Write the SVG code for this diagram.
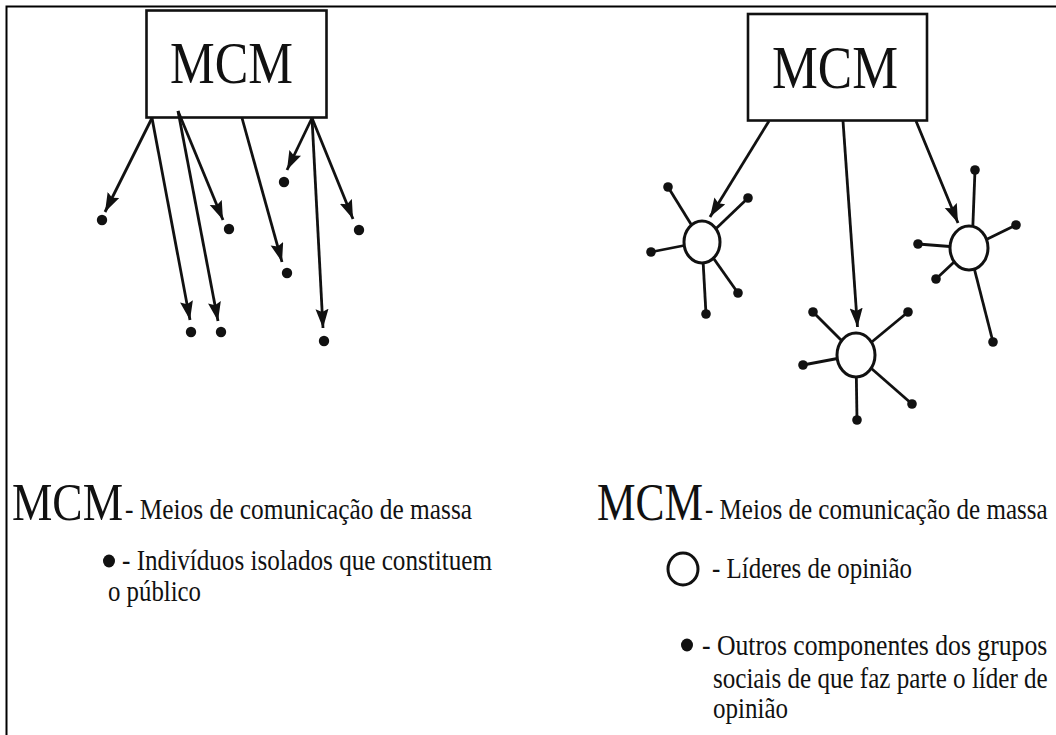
<svg xmlns="http://www.w3.org/2000/svg" width="1056" height="735" viewBox="0 0 1056 735">
<style>
.frame{fill:none;stroke:#000;stroke-width:2}
.box{fill:#fff;stroke:#111;stroke-width:2.6}
.lbl{font-family:"Liberation Serif","Times New Roman",serif;fill:#111}
.conn{stroke:#111;stroke-width:2.8;fill:none}
.arr{stroke:#111;stroke-width:2.8;fill:none;marker-end:url(#ah)}
.dot{fill:#111}
.leader{fill:#fff;stroke:#111;stroke-width:3}
</style>
<defs>
<marker id="ah" markerUnits="userSpaceOnUse" markerWidth="20" markerHeight="14" refX="19" refY="6.5" orient="auto">
<path d="M0,0 L19,6.5 L0,13 L3,6.5 z" fill="#111"/>
</marker>
</defs>
<rect width="1056" height="735" fill="#fff"/>
<path class="frame" d="M6.5,735 L6.5,6.5 L1056,6.5"/>

<g id="left-mcm">
<rect class="box" x="146.5" y="10.5" width="180" height="107"/>
<text class="lbl" x="170" y="83" font-size="60" textLength="123" lengthAdjust="spacingAndGlyphs">MCM</text>
</g>

<g id="left-individuals">
<circle class="dot" cx="102" cy="220" r="5.2"/>
<circle class="dot" cx="191" cy="332" r="5.2"/>
<circle class="dot" cx="229" cy="229" r="5.2"/>
<circle class="dot" cx="221" cy="332" r="5.2"/>
<circle class="dot" cx="287" cy="273" r="5.2"/>
<circle class="dot" cx="284" cy="182" r="5.2"/>
<circle class="dot" cx="324" cy="341" r="5.2"/>
<circle class="dot" cx="359" cy="230" r="5.2"/>
</g>

<g id="right-mcm">
<rect class="box" x="748" y="14" width="179" height="106.5"/>
<text class="lbl" x="772" y="88" font-size="61" textLength="126" lengthAdjust="spacingAndGlyphs">MCM</text>
</g>

<g id="connectors">
<line class="arr" x1="152" y1="118" x2="105" y2="212"/>
<line class="arr" x1="152" y1="118" x2="190" y2="320"/>
<line class="arr" x1="178" y1="111" x2="223" y2="220"/>
<line class="arr" x1="178" y1="111" x2="218" y2="321"/>
<line class="arr" x1="242" y1="118" x2="282" y2="262"/>
<line class="arr" x1="312" y1="118" x2="287" y2="170"/>
<line class="arr" x1="312" y1="118" x2="323" y2="328"/>
<line class="arr" x1="312" y1="118" x2="353" y2="219"/>
<line class="arr" x1="769" y1="121" x2="710" y2="217"/>
<line class="arr" x1="843" y1="121" x2="857.5" y2="327"/>
<line class="arr" x1="916" y1="121" x2="958" y2="223"/>
</g>

<g id="leader-1">
<line class="conn" x1="702" y1="242" x2="668" y2="187"/>
<line class="conn" x1="702" y1="242" x2="748" y2="198"/>
<line class="conn" x1="702" y1="242" x2="651" y2="252"/>
<line class="conn" x1="702" y1="242" x2="738" y2="293"/>
<line class="conn" x1="702" y1="242" x2="706" y2="314"/>
<circle class="dot" cx="668" cy="187" r="4.8"/>
<circle class="dot" cx="748" cy="198" r="4.8"/>
<circle class="dot" cx="651" cy="252" r="4.8"/>
<circle class="dot" cx="738" cy="293" r="4.8"/>
<circle class="dot" cx="706" cy="314" r="4.8"/>
<ellipse class="leader" cx="702" cy="242" rx="18" ry="21"/>
</g>

<g id="leader-2">
<line class="conn" x1="856" y1="355" x2="813" y2="312"/>
<line class="conn" x1="856" y1="355" x2="908" y2="312"/>
<line class="conn" x1="856" y1="355" x2="803" y2="365"/>
<line class="conn" x1="856" y1="355" x2="912" y2="404"/>
<line class="conn" x1="856" y1="355" x2="857" y2="420"/>
<circle class="dot" cx="813" cy="312" r="4.8"/>
<circle class="dot" cx="908" cy="312" r="4.8"/>
<circle class="dot" cx="803" cy="365" r="4.8"/>
<circle class="dot" cx="912" cy="404" r="4.8"/>
<circle class="dot" cx="857" cy="420" r="4.8"/>
<ellipse class="leader" cx="856" cy="355" rx="19" ry="22"/>
</g>

<g id="leader-3">
<line class="conn" x1="972" y1="248" x2="975" y2="170"/>
<line class="conn" x1="969" y1="248" x2="1016" y2="225"/>
<line class="conn" x1="969" y1="248" x2="918" y2="244"/>
<line class="conn" x1="969" y1="248" x2="936" y2="279"/>
<line class="conn" x1="969" y1="248" x2="993" y2="342"/>
<circle class="dot" cx="975" cy="170" r="4.8"/>
<circle class="dot" cx="1016" cy="225" r="4.8"/>
<circle class="dot" cx="918" cy="244" r="4.8"/>
<circle class="dot" cx="936" cy="279" r="4.8"/>
<circle class="dot" cx="993" cy="342" r="4.8"/>
<ellipse class="leader" cx="969" cy="248" rx="19" ry="22"/>
</g>

<g id="legend-left">
<text class="lbl" x="12" y="520" font-size="52" textLength="111" lengthAdjust="spacingAndGlyphs">MCM</text>
<text class="lbl" x="125" y="519" font-size="29" textLength="347" lengthAdjust="spacingAndGlyphs">- Meios de comunicação de massa</text>
<ellipse class="dot" cx="109" cy="561" rx="6" ry="6.5"/>
<text class="lbl" x="122" y="570" font-size="29" textLength="370" lengthAdjust="spacingAndGlyphs">- Indivíduos isolados que constituem</text>
<text class="lbl" x="108" y="601" font-size="29" textLength="93" lengthAdjust="spacingAndGlyphs">o público</text>
</g>

<g id="legend-right">
<text class="lbl" x="597" y="520" font-size="52" textLength="106" lengthAdjust="spacingAndGlyphs">MCM</text>
<text class="lbl" transform="translate(705,519) scale(0.874,1)" x="0" y="0" font-size="29" textLength="392" lengthAdjust="spacingAndGlyphs">- Meios de comunicação de massa</text>
<ellipse class="leader" cx="683" cy="569" rx="15" ry="16" stroke-width="2.6"/>
<text class="lbl" x="712" y="578" font-size="29" textLength="200" lengthAdjust="spacingAndGlyphs">- Líderes de opinião</text>
<ellipse class="dot" cx="687" cy="645" rx="6" ry="6.5"/>
<text class="lbl" transform="translate(702,655) scale(0.874,1)" x="0" y="0" font-size="29" textLength="395" lengthAdjust="spacingAndGlyphs">- Outros componentes dos grupos</text>
<text class="lbl" transform="translate(713,688) scale(0.874,1)" x="0" y="0" font-size="29" textLength="383" lengthAdjust="spacingAndGlyphs">sociais de que faz parte o líder de</text>
<text class="lbl" x="713" y="718" font-size="29" textLength="75" lengthAdjust="spacingAndGlyphs">opinião</text>
</g>
</svg>
